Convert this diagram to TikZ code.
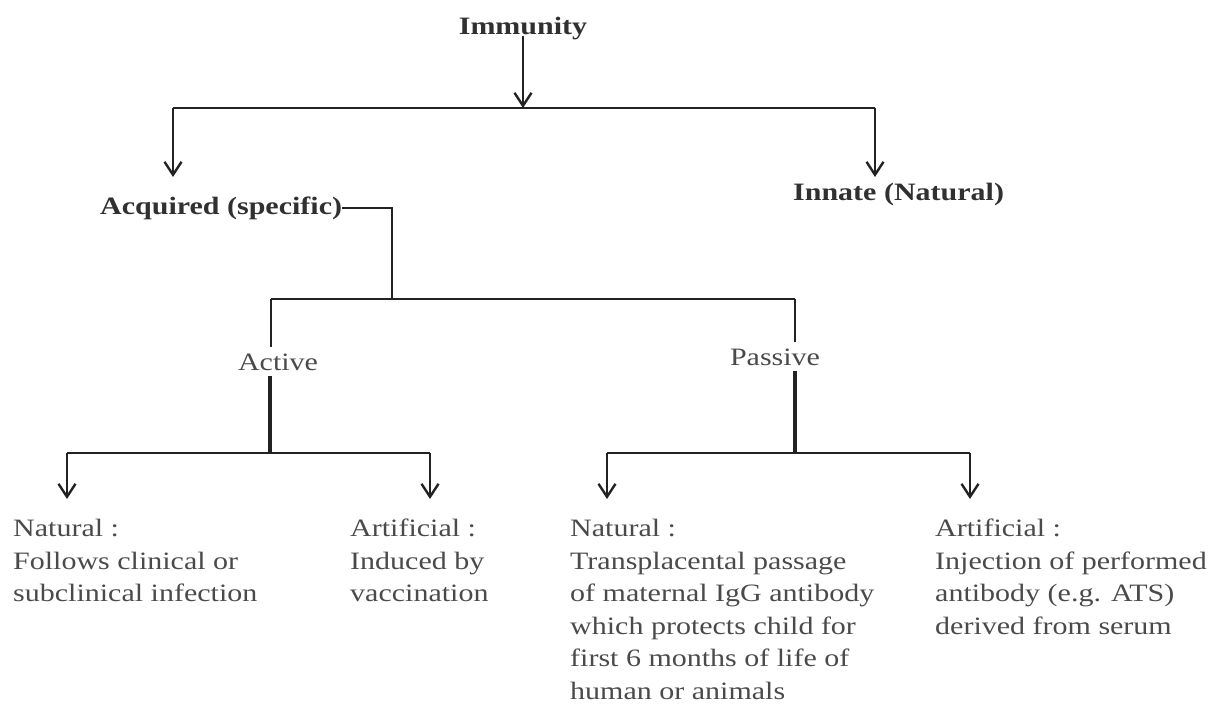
\documentclass[tikz,border=0pt]{standalone}
\usepackage{fontspec}
\setmainfont{Liberation Serif}[FakeStretch=1.2]
\usetikzlibrary{arrows.meta}
\definecolor{inkline}{HTML}{222222}
\definecolor{inkhead}{HTML}{303030}
\definecolor{inktext}{HTML}{4A4A4A}

\begin{document}
\begin{tikzpicture}[x=1pt,y=-1pt,
    head/.style={font=\fontsize{25}{33}\selectfont\bfseries, text=inkhead, inner sep=0pt},
    branch/.style={font=\fontsize{25}{33}\selectfont, text=inktext, inner sep=6pt, anchor=base},
    leaf/.style={font=\fontsize{25}{32.5}\selectfont, text=inktext, inner sep=0pt, anchor=north west, align=left},
    link/.style={draw=inkline, line width=2.4pt},
    heavy/.style={draw=inkline, line width=3.2pt},
    arr/.style={link, -{Straight Barb[length=13pt,width=17pt,line width=2.4pt]}}]
    \useasboundingbox (0,0) rectangle (1223,706);

    % Titulos
    \node[head, anchor=base] (immunity) at (523,35) {Immunity};
    \node[head, anchor=base west] (acquired) at (100,214) {Acquired (specific)};
    \node[head, anchor=base west] (innate) at (793,200) {Innate (Natural)};
    \node[branch] (active) at (278,370) {Active};
    \node[branch] (passive) at (775,365) {Passive};

    % Hojas
    \node[leaf] (natact) at (13,519) {Natural :\\Follows clinical or\\subclinical infection};
    \node[leaf] (artact) at (350,519) {Artificial :\\Induced by\\vaccination};
    \node[leaf] (natpas) at (570,519) {Natural :\\Transplacental passage\\of maternal IgG antibody\\which protects child for\\first 6 months of life of\\human or animals};
    \node[leaf] (artpas) at (935,519) {Artificial :\\Injection of performed\\antibody (e.g. ATS)\\derived from serum};

    % Puntos de union
    \coordinate (top) at (523,108);
    \coordinate (topw) at (173,108);
    \coordinate (tope) at (875,108);
    \coordinate (midj) at (392,299);
    \coordinate (midw) at (271,299);
    \coordinate (mide) at (795,299);
    \coordinate (actj) at (270,453);
    \coordinate (actw) at (67,453);
    \coordinate (acte) at (430,453);
    \coordinate (pasj) at (795,453);
    \coordinate (pasw) at (607,453);
    \coordinate (pase) at (970,453);

    % Primer nivel
    \draw[arr] ([yshift=5pt]immunity.south) -- (top);
    \draw[link] (topw) -- (tope);
    \draw[arr] (topw) -- ++(0,69);
    \draw[arr] (tope) -- ++(0,69);

    % Adquirida
    \draw[link] (acquired.east) -| (midj);
    \draw[link] (midw) -- (mide);
    \draw[link] (midw) -- (midw |- active.north);
    \draw[link] (mide) -- (mide |- passive.north);

    % Activa
    \draw[heavy] (actj |- active.south) -- (actj);
    \draw[link] (actw) -- (acte);
    \draw[arr] (actw) -- ++(0,46);
    \draw[arr] (acte) -- ++(0,46);

    % Pasiva
    \draw[heavy] (pasj |- passive.south) -- (pasj);
    \draw[link] (pasw) -- (pase);
    \draw[arr] (pasw) -- ++(0,46);
    \draw[arr] (pase) -- ++(0,46);
\end{tikzpicture}
\end{document}
